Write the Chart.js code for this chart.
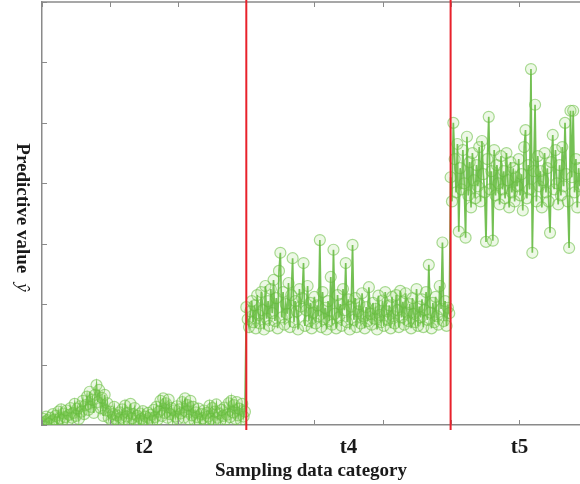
<!DOCTYPE html>
<html lang="en">
<head>
    <meta charset="UTF-8">
    <title>Predictive value by sampling data category</title>
    <script src="https://cdn.jsdelivr.net/npm/chart.js"></script>
    <style>
        html, body { margin: 0; padding: 0; background: #fff; }
        .chart-container { position: relative; width: 580px; height: 484px; }
    </style>
</head>
<body>
    <div class="chart-container">
        <canvas id="predChart"></canvas>
    </div>
    <script>
        // Categorias e valores previstos (uma amostra por ponto)
        const categories = ['t2', 't4', 't5'];
        const xMax = 395;
        const yTicks = [0, 1, 2, 3, 4, 5, 6, 7];

        const t2 = [
            0.03, 0.10, 0.05, 0.14, 0.08, 0.02, 0.12, 0.06, 0.18, 0.09,
            0.15, 0.04, 0.22, 0.11, 0.26, 0.08, 0.19, 0.13, 0.24, 0.07,
            0.17, 0.28, 0.12, 0.20, 0.35, 0.15, 0.27, 0.10, 0.31, 0.22,
            0.40, 0.18, 0.33, 0.47, 0.25, 0.55, 0.30, 0.42, 0.20, 0.50,
            0.66, 0.38, 0.58, 0.28, 0.45, 0.15, 0.50, 0.24, 0.36, 0.12,
            0.22, 0.08, 0.18, 0.30, 0.10, 0.16, 0.05, 0.21, 0.12, 0.26,
            0.09, 0.32, 0.14, 0.20, 0.06, 0.35, 0.11, 0.18, 0.28, 0.07,
            0.15, 0.04, 0.19, 0.10, 0.23, 0.08, 0.14, 0.03, 0.20, 0.12,
            0.17, 0.06, 0.25, 0.13, 0.30, 0.09, 0.22, 0.40, 0.15, 0.44,
            0.20, 0.36, 0.12, 0.42, 0.18, 0.28, 0.08, 0.24, 0.14, 0.31,
            0.10, 0.26, 0.19, 0.38, 0.12, 0.44, 0.22, 0.33, 0.09, 0.40,
            0.16, 0.30, 0.07, 0.21, 0.13, 0.27, 0.05, 0.18, 0.11, 0.24,
            0.08, 0.20, 0.14, 0.32, 0.10, 0.28, 0.06, 0.22, 0.34, 0.12,
            0.19, 0.07, 0.25, 0.15, 0.29, 0.09, 0.17, 0.36, 0.13, 0.40,
            0.21, 0.33, 0.10, 0.38, 0.16, 0.27, 0.08, 0.35, 0.14, 0.22
        ];
        const t4 = [
            1.95, 1.75, 1.62, 1.88, 2.05, 1.70, 1.98, 1.60, 2.15, 1.82,
            1.68, 2.20, 1.90, 1.58, 2.30, 1.76, 2.05, 1.64, 2.25, 1.85,
            2.40, 1.72, 2.10, 1.60, 2.55, 2.85, 1.78, 2.20, 1.66, 2.00,
            1.84, 2.35, 1.62, 2.15, 2.76, 1.70, 2.05, 1.88, 1.58, 2.25,
            1.96, 2.10, 2.68, 1.64, 1.90, 2.30, 1.72, 2.02, 1.60, 1.86,
            2.12, 1.68, 1.98, 1.80, 3.06, 1.62, 2.20, 1.75, 1.94, 1.58,
            2.05, 1.72, 2.45, 1.66, 2.90, 1.84, 1.60, 2.15, 1.78, 2.00,
            1.64, 2.25, 1.90, 2.68, 1.70, 2.08, 1.58, 1.96, 2.98, 1.74,
            2.10, 1.62, 1.88, 2.00, 1.68, 2.18, 1.80, 1.60, 1.95, 1.72,
            2.28, 1.84, 1.66, 2.02, 1.76, 1.92, 1.58, 2.14, 1.82, 1.70,
            2.06, 1.64, 2.20, 1.88, 1.74, 1.98, 1.60, 2.12, 1.80, 1.68,
            2.15, 1.90, 1.62, 2.22, 1.78, 2.04, 1.66, 2.18, 1.86, 1.72,
            2.00, 1.60, 2.10, 1.84, 1.70, 2.25, 1.64, 1.96, 1.78, 2.08,
            1.62, 1.90, 2.20, 1.74, 2.65, 1.86, 1.60, 2.02, 1.70, 2.12,
            1.80, 1.66, 2.30, 1.92, 3.02, 1.72, 2.05, 1.64, 1.94, 1.85
        ];
        const t5 = [
            4.10, 3.70, 5.00, 4.40, 3.85, 4.65, 3.20, 4.25, 3.90, 4.55,
            4.00, 3.10, 4.77, 3.80, 4.35, 3.60, 4.50, 4.05, 3.75, 4.30,
            3.95, 4.60, 3.70, 4.70, 4.15, 3.85, 3.03, 4.40, 5.10, 3.90,
            4.20, 3.05, 4.55, 3.80, 4.30, 4.00, 3.65, 4.45, 3.90, 4.20,
            3.75, 4.50, 4.05, 3.60, 4.35, 3.85, 4.25, 3.70, 4.10, 3.95,
            4.40, 3.80, 4.15, 3.55, 4.60, 4.88, 3.75, 4.30, 3.90, 5.89,
            2.85, 4.20, 5.30, 3.70, 4.45, 3.95, 4.20, 3.60, 4.05, 4.50,
            3.85, 4.25, 3.70, 3.18, 4.35, 4.80, 3.90, 4.55, 4.00, 3.65,
            4.30, 3.80, 4.60, 3.95, 5.00, 4.15, 3.70, 2.93, 5.20, 4.10,
            5.20, 3.85, 4.40, 3.60, 4.25, 3.95
        ];
        const segments = [t2, t4, t5];
        const segmentLength = 150;

        // Monta os pontos e as posições das divisórias / rótulos
        const points = [];
        const dividers = [];
        const labelTicks = [];
        segments.forEach((seg, s) => {
            const start = s * segmentLength;
            seg.forEach((v, i) => points.push({ x: start + i, y: v }));
            const end = start + segmentLength;
            labelTicks.push({ value: (start + Math.min(end, xMax)) / 2 + (end > xMax ? 3 : 0), label: categories[s] });
            if (s < segments.length - 1) dividers.push(end);
        });

        const axisColor = '#8a8a8a';
        const serif = 'Liberation Serif';

        // Divisórias vermelhas, marcas de escala para dentro e título do eixo y
        const frame = {
            id: 'frame',
            afterDatasetsDraw(chart) {
                const { ctx, chartArea: a, scales: { x, y } } = chart;
                ctx.save();
                ctx.strokeStyle = axisColor;
                ctx.lineWidth = 1.5;
                ctx.beginPath();
                ctx.moveTo(a.left, a.top);
                ctx.lineTo(a.right, a.top);
                ctx.stroke();
                ctx.lineWidth = 1;
                for (let v = 0; v <= xMax; v += 50) {
                    const px = Math.round(x.getPixelForValue(v)) + 0.5;
                    ctx.beginPath();
                    ctx.moveTo(px, a.bottom); ctx.lineTo(px, a.bottom - 5);
                    ctx.moveTo(px, a.top); ctx.lineTo(px, a.top + 5);
                    ctx.stroke();
                }
                yTicks.forEach(v => {
                    const py = Math.round(y.getPixelForValue(v)) + 0.5;
                    ctx.beginPath();
                    ctx.moveTo(a.left, py); ctx.lineTo(a.left + 5, py);
                    ctx.stroke();
                });
                ctx.strokeStyle = '#e8212b';
                ctx.lineWidth = 2;
                dividers.forEach(v => {
                    const px = x.getPixelForValue(v);
                    ctx.beginPath();
                    ctx.moveTo(px, 0); ctx.lineTo(px, a.bottom + 5);
                    ctx.stroke();
                });

                // título vertical (lido de cima para baixo) com ŷ em itálico
                const main = 'Predictive value';
                const hat = 'ŷ';
                ctx.fillStyle = '#1a1a1a';
                ctx.font = 'bold 19px "' + serif + '"';
                const w1 = ctx.measureText(main).width;
                ctx.font = 'italic 19px "' + serif + '"';
                const w2 = ctx.measureText(hat).width;
                const gap = 10;
                const startY = (a.top + a.bottom) / 2 + 4 - (w1 + gap + w2) / 2;
                ctx.translate(22, startY);
                ctx.rotate(Math.PI / 2);
                ctx.textBaseline = 'middle';
                ctx.textAlign = 'left';
                ctx.font = 'bold 19px "' + serif + '"';
                ctx.fillText(main, 0, 0);
                ctx.font = 'italic 19px "' + serif + '"';
                ctx.fillText(hat, w1 + gap, 0);
                ctx.restore();
            }
        };

        const ctx = document.getElementById('predChart').getContext('2d');
        const predChart = new Chart(ctx, {
            type: 'line',
            data: {
                datasets: [{
                    data: points,
                    borderColor: 'rgba(86,178,46,0.82)',
                    borderWidth: 1.7,
                    pointRadius: 5.5,
                    pointBorderWidth: 1.2,
                    pointBorderColor: 'rgba(100,188,60,0.55)',
                    pointBackgroundColor: 'rgba(140,210,100,0.16)',
                    tension: 0
                }]
            },
            options: {
                responsive: true,
                maintainAspectRatio: false,
                animation: false,
                layout: { autoPadding: false, padding: { top: 2, right: 0, left: 0, bottom: 0 } },
                plugins: { legend: { display: false }, tooltip: { enabled: false } },
                scales: {
                    x: {
                        type: 'linear',
                        min: 0,
                        max: xMax,
                        afterFit: scale => { scale.height = 59; },
                        afterBuildTicks: scale => {
                            scale.ticks = labelTicks.map(t => ({ value: t.value }));
                        },
                        grid: { display: false },
                        border: { display: true, color: axisColor, width: 1.5 },
                        ticks: {
                            padding: 2,
                            color: '#1a1a1a',
                            font: { family: serif, size: 21, weight: 'bold' },
                            callback: (value, i) => labelTicks[i] ? labelTicks[i].label : ''
                        },
                        title: {
                            display: true,
                            text: 'Sampling data category',
                            color: '#1a1a1a',
                            padding: 2,
                            font: { family: serif, size: 19, weight: 'bold' }
                        }
                    },
                    y: {
                        min: 0,
                        max: 7,
                        afterFit: scale => { scale.width = 42; },
                        grid: { display: false },
                        border: { display: true, color: axisColor, width: 1.5 },
                        ticks: { display: false, stepSize: 1 },
                        title: { display: false }
                    }
                }
            },
            plugins: [frame]
        });
    </script>
</body>
</html>
